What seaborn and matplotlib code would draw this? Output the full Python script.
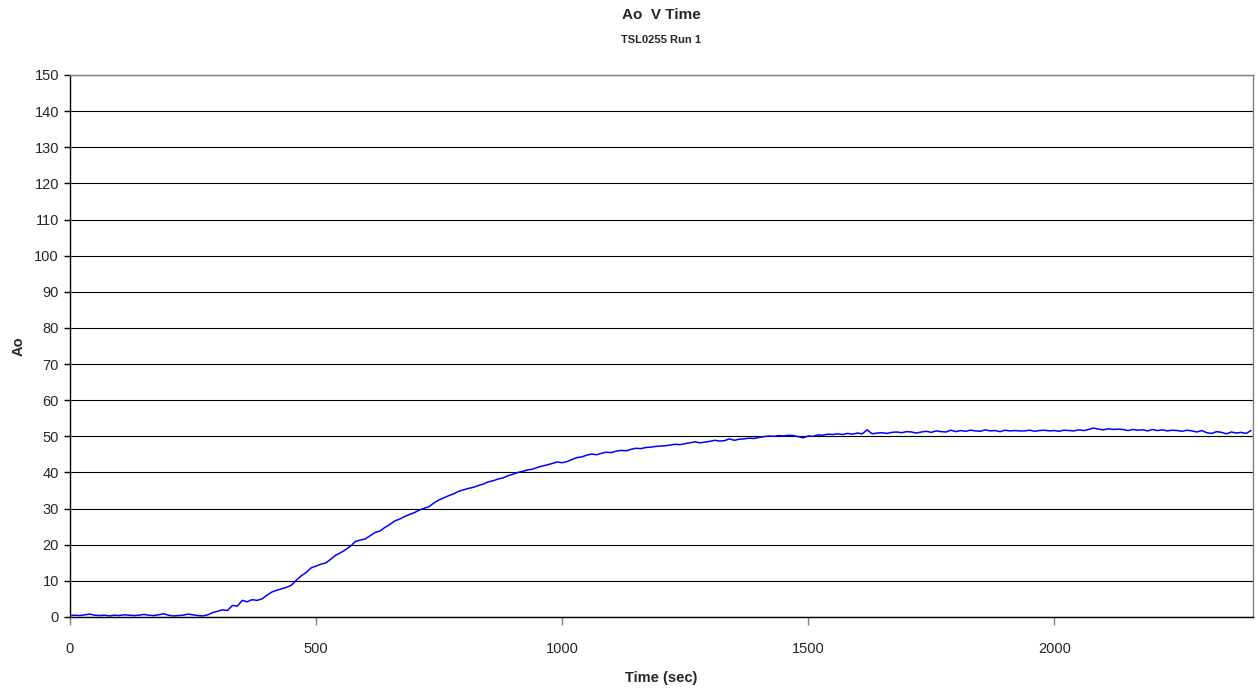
import matplotlib
matplotlib.use("Agg")
import matplotlib.pyplot as plt
import seaborn as sns
import pandas as pd

ao_values = [
    0.4, 0.5, 0.4, 0.6, 0.8, 0.5, 0.4, 0.5, 0.3, 0.5,
    0.4, 0.6, 0.5, 0.4, 0.5, 0.7, 0.5, 0.4, 0.6, 0.9,
    0.5, 0.3, 0.4, 0.5, 0.8, 0.6, 0.4, 0.3,
    0.6, 1.2, 1.6, 2.0, 1.8, 3.2, 3.0, 4.6, 4.2, 4.8,
    4.6, 5.0, 6.0, 6.9, 7.4, 7.8, 8.2, 8.8, 10.2, 11.4,
    12.3, 13.6, 14.1, 14.6, 15.0, 16.0, 17.1, 17.8, 18.6, 19.6,
    20.9, 21.3, 21.6, 22.5, 23.4, 23.8, 24.8, 25.6, 26.6, 27.1,
    27.8, 28.4, 28.9, 29.6, 30.1, 30.6, 31.6, 32.4, 33.0, 33.6,
    34.1, 34.8, 35.2, 35.6, 35.9, 36.4, 36.8, 37.4, 37.7, 38.2,
    38.5, 39.1, 39.5, 40.0, 40.3, 40.7, 40.9, 41.4, 41.8, 42.1,
    42.5, 42.9, 42.7, 43.0, 43.6, 44.1, 44.3, 44.8, 45.1, 44.9,
    45.3, 45.6, 45.5, 45.9, 46.1, 46.0, 46.4, 46.7, 46.6, 46.9,
    47.0, 47.2, 47.3, 47.4, 47.6, 47.8, 47.7, 48.0, 48.2, 48.5,
    48.2, 48.4, 48.6, 48.9, 48.7, 48.8, 49.3, 48.9, 49.2, 49.3,
    49.5, 49.4, 49.7, 49.9, 50.1, 50.0, 50.2, 50.1, 50.3, 50.2,
    49.9, 49.6, 50.1, 50.0, 50.4, 50.3, 50.6, 50.5, 50.7, 50.5,
    50.8, 50.6, 50.9, 50.7, 51.8, 50.7, 50.9, 51.0, 50.8, 51.1,
    51.2, 51.0, 51.3, 51.2, 50.9, 51.2, 51.4, 51.1, 51.5, 51.3,
    51.2, 51.7, 51.3, 51.6, 51.4, 51.7, 51.5, 51.4, 51.8, 51.5,
    51.6, 51.3, 51.7, 51.5, 51.6, 51.5, 51.5, 51.7, 51.4, 51.6,
    51.7, 51.5, 51.6, 51.4, 51.7, 51.6, 51.5, 51.8, 51.6, 51.9,
    52.3, 52.0, 51.8, 52.1, 51.9, 52.0, 51.9, 51.6, 51.9, 51.7,
    51.8, 51.5, 51.9, 51.6, 51.8, 51.5, 51.7, 51.6, 51.4, 51.7,
    51.5, 51.2, 51.6, 51.0, 50.8, 51.3, 51.1, 50.7, 51.2, 50.9,
    51.1, 50.8, 51.6,
]
time_sec = list(range(0, 10 * len(ao_values), 10))

x_ticks = [0, 500, 1000, 1500, 2000]
y_ticks = list(range(0, 151, 10))

title = "Ao  V Time"
subtitle = "TSL0255 Run 1"
x_label = "Time (sec)"
y_label = "Ao"

df = pd.DataFrame({"time": time_sec, "ao": ao_values})

sns.set_style("white")
plt.rcParams["font.family"] = ["Liberation Sans", "DejaVu Sans"]

fig = plt.figure(figsize=(12.58, 6.9), dpi=100)
ax = fig.add_axes([70 / 1258, 1 - 617 / 690, (1253 - 70) / 1258, (617 - 75) / 690])

sns.lineplot(data=df, x="time", y="ao", ax=ax, color="#0000FF", linewidth=1.1)

ax.set_xlim(0, 2404)
ax.set_ylim(0, 150)
ax.set_xticks(x_ticks)
ax.set_yticks(y_ticks)
ax.yaxis.grid(True, color="black", linewidth=0.8)
ax.xaxis.grid(False)
ax.set_axisbelow(True)

for side in ["left", "bottom"]:
    ax.spines[side].set_color("black")
    ax.spines[side].set_linewidth(1.0)
for side in ["top", "right"]:
    ax.spines[side].set_color("#808080")
    ax.spines[side].set_linewidth(1.0)

ax.tick_params(axis="x", direction="out", length=6, width=1, color="#808080",
               labelsize=10.5, pad=12, bottom=True)
ax.tick_params(axis="y", direction="out", length=4, width=1, color="black",
               labelsize=10.5, pad=4, left=True)

ax.set_xlabel(x_label, fontsize=10.5, fontweight="bold", labelpad=11)
ax.set_ylabel(y_label, fontsize=10.5, fontweight="bold", labelpad=6)

fig.text(661 / 1258, 1 - 15 / 690, title, ha="center", va="center",
         fontsize=11, fontweight="bold")
fig.text(661 / 1258, 1 - 40 / 690, subtitle, ha="center", va="center",
         fontsize=8, fontweight="bold")

fig.savefig("out.png", dpi=100)
